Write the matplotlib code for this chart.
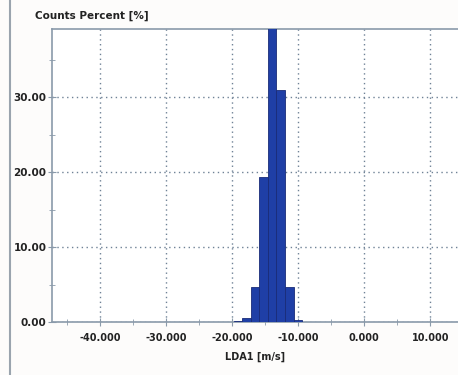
import matplotlib.pyplot as plt
from matplotlib.lines import Line2D
from matplotlib.ticker import MultipleLocator, FormatStrFormatter

# histogram of LDA1 velocity, counts in percent
bin_left = [-19.8, -18.5, -17.2, -15.9, -14.6, -13.3, -12.0, -10.7]
bin_width = 1.3
percent = [0.2, 0.6, 4.7, 19.4, 45.0, 31.0, 4.7, 0.3]

x_ticks = [-40, -30, -20, -10, 0, 10]
y_ticks = [0, 10, 20, 30]

fig = plt.figure(figsize=(4.58, 3.75), dpi=100)
fig.patch.set_facecolor('#fdfcfb')
ax = fig.add_axes([52 / 458, 53 / 375, 1 - 52 / 458, 293 / 375])
ax.set_facecolor('white')

ax.bar(bin_left, percent, width=bin_width, align='edge',
       color='#1f3fa6', edgecolor='#1a2c78', linewidth=0.6, zorder=3)

ax.set_xlim(-47.3, 14.2)
ax.set_ylim(0, 39.1)
ax.set_xticks(x_ticks)
ax.set_yticks(y_ticks)
ax.xaxis.set_minor_locator(MultipleLocator(5))
ax.yaxis.set_minor_locator(MultipleLocator(5))
ax.xaxis.set_major_formatter(FormatStrFormatter('%.3f'))
ax.yaxis.set_major_formatter(FormatStrFormatter('%.2f'))

ax.grid(True, which='major', linestyle=(0, (1, 2.5)), color='#6f8296',
        linewidth=1.0, zorder=1)

for side in ['left', 'top', 'bottom']:
    ax.spines[side].set_color('#8a9aaa')
    ax.spines[side].set_linewidth(1.2)
ax.spines['right'].set_visible(False)

ax.tick_params(which='both', direction='inout', color='#8a9aaa',
               labelcolor='#222222')
ax.tick_params(which='major', length=6)
ax.tick_params(which='minor', length=5)
ax.tick_params(axis='x', labelsize=7, pad=5)
ax.tick_params(axis='y', labelsize=7.5, pad=1)
for lbl in ax.get_xticklabels() + ax.get_yticklabels():
    lbl.set_fontweight('bold')

ax.set_xlabel('LDA1 [m/s]', fontsize=7, fontweight='bold',
              color='#222222', labelpad=6)
fig.text(35 / 458, 1 - 16 / 375, 'Counts Percent [%]', fontsize=7.5,
         fontweight='bold', color='#222222', va='center', ha='left')

# window border on the left
fig.add_artist(Line2D([10 / 458, 10 / 458], [0, 1], color='#9aa4ae',
                      linewidth=1.5, transform=fig.transFigure))

fig.savefig('out.png', dpi=100, facecolor=fig.get_facecolor())
